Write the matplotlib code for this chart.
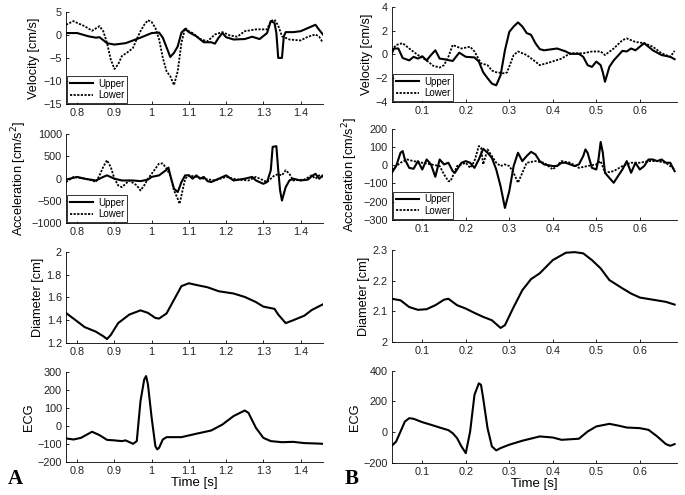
import numpy as np
import matplotlib
matplotlib.use('Agg')
from matplotlib import pyplot as plt

plt.rcParams['font.family'] = ['Liberation Sans', 'DejaVu Sans']

# ---- panel A (left column) ----
vA_up_t = [0.77, 0.80, 0.83, 0.85, 0.86, 0.88, 0.90, 0.93, 0.95, 0.97, 1.00, 1.02, 1.03, 1.05, 1.06, 1.07,
           1.08, 1.09, 1.10, 1.12, 1.14, 1.16, 1.17, 1.18, 1.19, 1.20, 1.22, 1.25, 1.27, 1.29, 1.31, 1.32,
           1.33, 1.335, 1.34, 1.35, 1.355, 1.36, 1.38, 1.40, 1.42, 1.44, 1.45, 1.46]
vA_up = [0.4, 0.4, -0.3, -0.6, -0.5, -1.8, -2.1, -1.8, -1.2, -0.6, 0.4, 0.5, -0.6, -4.8, -3.9, -2.5,
         0.5, 1.3, 0.6, -0.3, -1.6, -1.6, -1.9, -0.6, 0.4, -0.5, -1.0, -0.9, -0.4, -0.9, 0.4, 3.0,
         2.6, 0.4, -5.0, -5.0, -0.3, 0.6, 0.6, 0.8, 1.5, 2.2, 1.1, 0.1]
vA_lo_t = [0.77, 0.79, 0.80, 0.82, 0.84, 0.86, 0.87, 0.88, 0.89, 0.90, 0.91, 0.92, 0.94, 0.95, 0.96, 0.97,
           0.98, 0.99, 1.00, 1.01, 1.02, 1.03, 1.04, 1.05, 1.06, 1.07, 1.08, 1.09, 1.10, 1.11, 1.13, 1.15,
           1.17, 1.19, 1.21, 1.23, 1.25, 1.28, 1.31, 1.32, 1.33, 1.34, 1.35, 1.37, 1.40, 1.42, 1.44, 1.45, 1.46]
vA_lo = [2.2, 3.0, 2.6, 1.9, 0.9, 1.9, 0.8, -1.7, -5.3, -7.4, -6.4, -4.6, -3.5, -2.8, -0.9, 0.8,
         2.2, 3.2, 2.8, 1.5, -1.0, -5.0, -7.9, -9.0, -10.9, -7.9, -1.7, 1.5, 0.8, 0.4, -0.9, -1.4,
         0.1, 0.6, -0.1, -0.4, 0.8, 1.2, 1.2, 3.0, 3.3, 2.0, -0.3, -1.0, -1.2, -0.4, 0.1, -0.4, -1.7]

aA_up_t = [0.77, 0.80, 0.82, 0.85, 0.87, 0.88, 0.90, 0.92, 0.95, 0.97, 0.99, 1.00, 1.02, 1.04, 1.045, 1.05,
           1.06, 1.07, 1.075, 1.08, 1.09, 1.10, 1.11, 1.12, 1.13, 1.14, 1.15, 1.16, 1.18, 1.20, 1.22, 1.25,
           1.27, 1.28, 1.30, 1.31, 1.32, 1.325, 1.335, 1.34, 1.345, 1.35, 1.36, 1.37, 1.38, 1.40, 1.42, 1.43,
           1.44, 1.45, 1.46]
aA_up = [-20, 40, 0, -40, 40, 75, 0, -40, -40, -55, -20, 40, 75, 200, 250, 75,
         -225, -300, -190, -75, 75, 75, 0, 75, 0, 40, -55, -75, 0, 75, -40, 0,
         40, -40, -115, -75, 190, 715, 730, 190, -265, -490, -190, -40, 0, -40, -20, 55,
         110, 0, 75]
aA_lo_t = [0.77, 0.79, 0.82, 0.84, 0.85, 0.86, 0.87, 0.88, 0.89, 0.90, 0.91, 0.92, 0.94, 0.96, 0.97, 0.98,
           0.99, 1.00, 1.01, 1.02, 1.03, 1.04, 1.05, 1.06, 1.07, 1.075, 1.08, 1.09, 1.10, 1.12, 1.14, 1.17,
           1.20, 1.23, 1.26, 1.28, 1.31, 1.33, 1.34, 1.35, 1.36, 1.37, 1.38, 1.41, 1.43, 1.44, 1.45, 1.46]
aA_lo = [-75, 40, 0, -40, -75, 75, 265, 415, 265, 0, -150, -190, -40, -150, -265, -150,
         0, 110, 225, 340, 340, 225, 75, -265, -450, -565, -375, 0, 75, 40, 0, -40,
         40, -20, -40, 40, -75, 75, 100, 75, 190, 110, -40, -20, 75, 0, 75, 40]

dA_t = [0.77, 0.80, 0.82, 0.85, 0.87, 0.88, 0.89, 0.91, 0.94, 0.97, 0.99, 1.01, 1.02, 1.04, 1.06, 1.08,
        1.10, 1.12, 1.15, 1.18, 1.22, 1.25, 1.28, 1.30, 1.33, 1.34, 1.36, 1.38, 1.41, 1.43, 1.46]
dA = [1.464, 1.39, 1.34, 1.30, 1.26, 1.235, 1.27, 1.375, 1.45, 1.487, 1.465, 1.42, 1.415, 1.46, 1.58, 1.70,
      1.725, 1.71, 1.69, 1.655, 1.635, 1.605, 1.56, 1.52, 1.50, 1.45, 1.375, 1.40, 1.44, 1.49, 1.54]

eA_t = [0.77, 0.79, 0.81, 0.84, 0.86, 0.88, 0.90, 0.92, 0.93, 0.95, 0.96, 0.97, 0.98, 0.985, 0.99, 1.00,
        1.01, 1.015, 1.02, 1.03, 1.04, 1.08, 1.12, 1.16, 1.19, 1.22, 1.25, 1.26, 1.28, 1.30, 1.32, 1.35,
        1.38, 1.41, 1.44, 1.46]
eA = [-70, -76, -67, -33, -52, -78, -81, -85, -81, -100, -85, 137, 257, 276, 230, 44,
      -113, -131, -122, -76, -63, -63, -44, -26, 7, 54, 85, 72, -11, -67, -85, -91,
      -89, -96, -98, -100]

# ---- panel B (right column) ----
vB_up_t = [0.03, 0.035, 0.045, 0.055, 0.07, 0.08, 0.09, 0.10, 0.11, 0.12, 0.13, 0.14, 0.15, 0.17, 0.185, 0.20,
           0.22, 0.23, 0.24, 0.25, 0.26, 0.27, 0.28, 0.29, 0.30, 0.31, 0.32, 0.33, 0.34, 0.35, 0.36, 0.37,
           0.38, 0.40, 0.41, 0.43, 0.44, 0.46, 0.47, 0.48, 0.49, 0.50, 0.51, 0.515, 0.52, 0.53, 0.54, 0.56,
           0.57, 0.58, 0.59, 0.60, 0.61, 0.63, 0.65, 0.67, 0.68]
vB_up = [0.1, 0.5, 0.5, -0.3, -0.5, -0.2, -0.35, -0.15, -0.5, -0.05, 0.35, -0.35, -0.4, -0.55, 0.15, -0.2,
         -0.25, -0.6, -1.5, -2.0, -2.45, -2.6, -1.75, 0.35, 1.9, 2.35, 2.7, 2.35, 1.8, 1.65, 0.95, 0.45,
         0.35, 0.45, 0.5, 0.25, 0.05, 0.05, -0.2, -0.9, -1.05, -0.6, -0.9, -1.5, -2.3, -1.05, -0.5, 0.3,
         0.25, 0.5, 0.35, 0.65, 0.95, 0.35, -0.05, -0.2, -0.4]
vB_lo_t = [0.03, 0.04, 0.055, 0.07, 0.09, 0.11, 0.125, 0.14, 0.15, 0.16, 0.17, 0.19, 0.21, 0.22, 0.235, 0.25,
           0.26, 0.27, 0.28, 0.29, 0.295, 0.31, 0.32, 0.34, 0.36, 0.37, 0.39, 0.42, 0.44, 0.47, 0.49, 0.51,
           0.52, 0.54, 0.56, 0.57, 0.59, 0.61, 0.63, 0.65, 0.67, 0.68]
vB_lo = [0.35, 0.8, 0.95, 0.5, -0.05, -0.5, -0.95, -1.1, -0.9, -0.2, 0.8, 0.5, 0.65, 0.25, -0.75, -0.9,
         -1.35, -1.5, -1.55, -1.6, -1.5, -0.05, 0.25, -0.05, -0.6, -0.9, -0.7, -0.35, 0.1, 0.1, 0.25, 0.25,
         -0.05, 0.5, 1.2, 1.35, 1.05, 0.95, 0.65, 0.1, -0.2, 0.3]

aB_up_t = [0.03, 0.04, 0.05, 0.055, 0.06, 0.07, 0.08, 0.09, 0.10, 0.11, 0.12, 0.13, 0.14, 0.15, 0.16, 0.17,
           0.175, 0.19, 0.20, 0.21, 0.22, 0.23, 0.24, 0.25, 0.26, 0.27, 0.28, 0.29, 0.30, 0.31, 0.32, 0.33,
           0.34, 0.35, 0.36, 0.37, 0.38, 0.40, 0.41, 0.42, 0.43, 0.45, 0.46, 0.47, 0.475, 0.48, 0.49, 0.50,
           0.505, 0.51, 0.515, 0.52, 0.53, 0.54, 0.55, 0.56, 0.57, 0.58, 0.59, 0.60, 0.61, 0.62, 0.63, 0.64,
           0.65, 0.66, 0.67, 0.68]
aB_up = [-42, -5, 68, 77, 31, -15, -20, 22, -24, 31, 4, -64, 31, 4, 13, -33,
         -42, 13, 22, 13, -15, 31, 90, 68, 40, -24, -116, -235, -143, -5, 68, 22,
         50, 73, 59, 22, 4, -5, -5, 13, 13, -5, 4, 50, 86, 68, -15, -24,
         31, 127, 68, -42, -70, -97, -60, -24, 22, -42, 13, -24, -5, 31, 31, 22,
         31, 13, 13, -33]
aB_lo_t = [0.03, 0.05, 0.065, 0.08, 0.10, 0.12, 0.14, 0.15, 0.16, 0.165, 0.18, 0.20, 0.21, 0.22, 0.23, 0.235,
           0.24, 0.25, 0.26, 0.27, 0.28, 0.29, 0.30, 0.31, 0.32, 0.33, 0.34, 0.36, 0.38, 0.40, 0.42, 0.44,
           0.46, 0.48, 0.50, 0.51, 0.52, 0.54, 0.56, 0.58, 0.60, 0.62, 0.64, 0.66, 0.68]
aB_lo = [-24, 13, 31, 22, 13, 4, -5, -51, -88, -88, -5, 13, -15, 22, 105, 96,
         4, 86, 50, 13, -5, 4, -5, -42, -97, -42, 13, 22, 13, -24, 22, 13,
         -15, -5, 4, 22, -42, -33, -5, 13, 13, 22, 22, 13, -24]

dB_t = [0.03, 0.05, 0.07, 0.09, 0.11, 0.13, 0.15, 0.16, 0.18, 0.20, 0.22, 0.24, 0.26, 0.28, 0.29, 0.31,
        0.33, 0.35, 0.37, 0.40, 0.43, 0.45, 0.47, 0.49, 0.51, 0.53, 0.56, 0.58, 0.60, 0.63, 0.66, 0.68]
dB = [2.141, 2.136, 2.114, 2.105, 2.107, 2.12, 2.138, 2.141, 2.12, 2.109, 2.095, 2.082, 2.071, 2.046, 2.055, 2.114,
      2.169, 2.205, 2.224, 2.267, 2.291, 2.293, 2.289, 2.267, 2.24, 2.202, 2.175, 2.158, 2.145, 2.138, 2.131, 2.122]

eB_t = [0.03, 0.04, 0.05, 0.06, 0.07, 0.08, 0.10, 0.12, 0.14, 0.16, 0.17, 0.18, 0.19, 0.20, 0.21, 0.22,
        0.23, 0.235, 0.24, 0.25, 0.26, 0.27, 0.28, 0.30, 0.33, 0.37, 0.40, 0.42, 0.46, 0.48, 0.50, 0.53,
        0.55, 0.57, 0.60, 0.62, 0.64, 0.66, 0.67, 0.68]
eB = [-89, -61, 4, 69, 91, 87, 65, 48, 30, 13, -7, -39, -93, -137, 4, 243,
      318, 308, 221, 26, -93, -119, -104, -82, -56, -28, -35, -50, -43, 4, 37, 54,
      43, 30, 26, 15, -28, -78, -89, -78]

xticksA = [0.8, 0.9, 1.0, 1.1, 1.2, 1.3, 1.4]
xlabelsA = ['0.8', '0.9', '1', '1.1', '1.2', '1.3', '1.4']
xticksB = [0.1, 0.2, 0.3, 0.4, 0.5, 0.6]
xlabelsB = ['0.1', '0.2', '0.3', '0.4', '0.5', '0.6']

fig = plt.figure(figsize=(6.85, 4.95), dpi=100)

# axes rects in figure fractions
left_x, left_w = 0.0964, 0.375
right_x, right_w = 0.572, 0.416
rowsA = [(0.790, 0.186), (0.549, 0.180), (0.307, 0.184), (0.067, 0.182)]
rowsB = [(0.794, 0.192), (0.556, 0.184), (0.309, 0.186), (0.065, 0.186)]

DOT = (0, (1.2, 0.8))


def setup(ax, xlim, xt, xl, ylim, yt, ylab):
    ax.set_xlim(xlim)
    ax.set_ylim(ylim)
    ax.set_xticks(xt)
    ax.set_xticklabels(xl)
    ax.set_yticks(yt)
    ax.set_ylabel(ylab, fontsize=9.2, labelpad=2)
    ax.spines['top'].set_visible(False)
    ax.spines['right'].set_visible(False)
    ax.spines['left'].set_linewidth(0.6)
    ax.spines['bottom'].set_linewidth(0.6)
    ax.tick_params(direction='in', length=2.5, width=0.6, labelsize=7.8, pad=3,
                   labelcolor='#222222')


def leg(ax):
    l = ax.legend(['Upper', 'Lower'], loc='lower left', fontsize=7, frameon=True, fancybox=False,
                  borderaxespad=0.1, handlelength=2.4, borderpad=0.3, labelspacing=0.15,
                  handletextpad=0.5)
    l.get_frame().set_edgecolor('black')
    l.get_frame().set_linewidth(0.7)


# --- A ---
ax = fig.add_axes([left_x, rowsA[0][0], left_w, rowsA[0][1]])
ax.plot(vA_up_t, vA_up, 'k-', lw=1.5)
ax.plot(vA_lo_t, vA_lo, 'k', ls=DOT, lw=1.3)
setup(ax, (0.77, 1.46), xticksA, xlabelsA, (-15, 5), [-15, -10, -5, 0, 5], 'Velocity [cm/s]')
leg(ax)

ax = fig.add_axes([left_x, rowsA[1][0], left_w, rowsA[1][1]])
ax.plot(aA_up_t, aA_up, 'k-', lw=1.5)
ax.plot(aA_lo_t, aA_lo, 'k', ls=DOT, lw=1.3)
setup(ax, (0.77, 1.46), xticksA, xlabelsA, (-1000, 1000), [-1000, -500, 0, 500, 1000],
      'Acceleration [cm/s$^2$]')
leg(ax)

ax = fig.add_axes([left_x, rowsA[2][0], left_w, rowsA[2][1]])
ax.plot(dA_t, dA, 'k-', lw=1.5)
setup(ax, (0.77, 1.46), xticksA, xlabelsA, (1.2, 2.0), [1.2, 1.4, 1.6, 1.8, 2.0], 'Diameter [cm]')
ax.set_yticklabels(['1.2', '1.4', '1.6', '1.8', '2'])

ax = fig.add_axes([left_x, rowsA[3][0], left_w, rowsA[3][1]])
ax.plot(eA_t, eA, 'k-', lw=1.5)
setup(ax, (0.77, 1.46), xticksA, xlabelsA, (-200, 300), [-200, -100, 0, 100, 200, 300], 'ECG')
ax.set_xlabel('Time [s]', fontsize=9.5, labelpad=1)

# --- B ---
ax = fig.add_axes([right_x, rowsB[0][0], right_w, rowsB[0][1]])
ax.plot(vB_up_t, vB_up, 'k-', lw=1.5)
ax.plot(vB_lo_t, vB_lo, 'k', ls=DOT, lw=1.3)
setup(ax, (0.03, 0.685), xticksB, xlabelsB, (-4, 4), [-4, -2, 0, 2, 4], 'Velocity [cm/s]')
leg(ax)

ax = fig.add_axes([right_x, rowsB[1][0], right_w, rowsB[1][1]])
ax.plot(aB_up_t, aB_up, 'k-', lw=1.5)
ax.plot(aB_lo_t, aB_lo, 'k', ls=DOT, lw=1.3)
setup(ax, (0.03, 0.685), xticksB, xlabelsB, (-300, 200), [-300, -200, -100, 0, 100, 200],
      'Acceleration [cm/s$^2$]')
leg(ax)

ax = fig.add_axes([right_x, rowsB[2][0], right_w, rowsB[2][1]])
ax.plot(dB_t, dB, 'k-', lw=1.5)
setup(ax, (0.03, 0.685), xticksB, xlabelsB, (2.0, 2.3), [2.0, 2.1, 2.2, 2.3], 'Diameter [cm]')
ax.set_yticklabels(['2', '2.1', '2.2', '2.3'])

ax = fig.add_axes([right_x, rowsB[3][0], right_w, rowsB[3][1]])
ax.plot(eB_t, eB, 'k-', lw=1.5)
setup(ax, (0.03, 0.685), xticksB, xlabelsB, (-200, 400), [-200, 0, 200, 400], 'ECG')
ax.set_xlabel('Time [s]', fontsize=9.5, labelpad=1)

fig.text(0.012, 0.022, 'A', fontsize=15, fontweight='bold', family='Liberation Serif')
fig.text(0.503, 0.022, 'B', fontsize=15, fontweight='bold', family='Liberation Serif')

fig.savefig('out.png', dpi=100)
